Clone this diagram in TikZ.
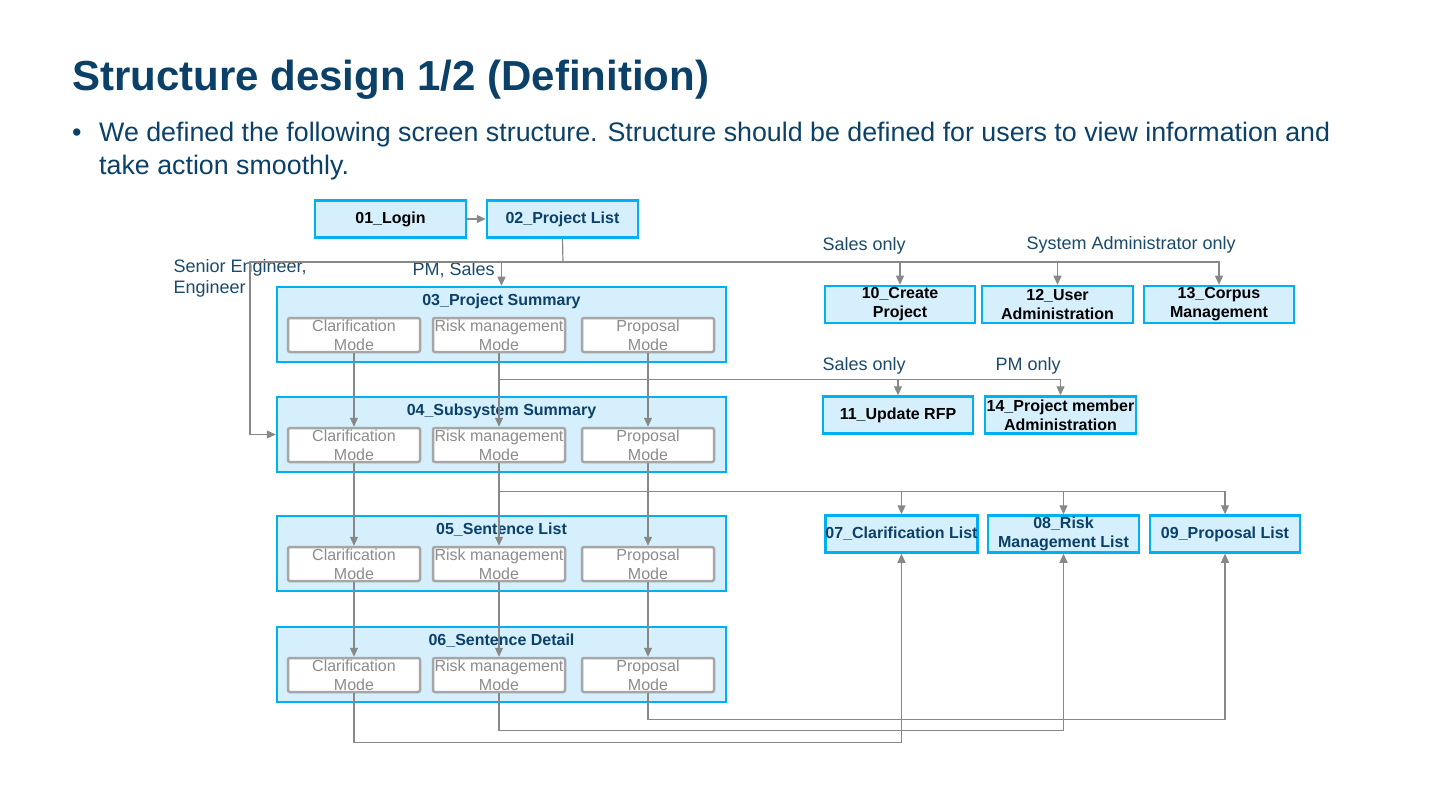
\documentclass[tikz,border=0pt]{standalone}
\usepackage{fontspec}
\setmainfont{Liberation Sans}
\usetikzlibrary{arrows.meta}

\definecolor{navy}{HTML}{0B4168}
\definecolor{labelblue}{HTML}{1B4A6B}
\definecolor{screenfill}{HTML}{D5EFFC}
\definecolor{screenline}{HTML}{00B0F0}
\definecolor{modeline}{HTML}{A6A6A6}
\definecolor{modetext}{HTML}{8C8C8C}
\definecolor{wire}{HTML}{888888}

\tikzset{
  screen/.style={draw=screenline, fill=screenfill, line width=2.5pt,
    minimum height=37pt, inner sep=0pt, align=center,
    font=\bfseries\fontsize{16}{19}\selectfont, text=black},
  group/.style={draw=screenline, fill=screenfill, line width=2.5pt,
    minimum width=449pt, minimum height=75pt, inner sep=0pt},
  grouptitle/.style={font=\bfseries\fontsize{16}{18}\selectfont, text=navy},
  mode/.style={draw=modeline, fill=white, line width=2.5pt, rounded corners=2pt,
    minimum width=132pt, minimum height=34pt, inner sep=0pt, align=center,
    font=\fontsize{16}{19}\selectfont, text=modetext},
  role/.style={font=\fontsize{18}{21}\selectfont, text=labelblue, align=left},
  wireline/.style={draw=wire, line width=1.2pt},
  arr/.style={wireline, -{Triangle[length=9pt,width=8pt]}},
}

\begin{document}
\begin{tikzpicture}[x=1pt, y=-1pt]
\path[use as bounding box, fill=white] (0,0) rectangle (1440,810);

% heading and bullet (multi-line nodes are placed by their last baseline)
\node[anchor=base west, inner sep=0pt, text=navy,
  font=\bfseries\fontsize{42}{48}\selectfont] (title) at (72,91)
  {Structure design 1/2 (Definition)};
\node[anchor=base west, inner sep=0pt, text=navy,
  font=\fontsize{27}{33}\selectfont] (dot) at (72,142) {\textbullet};
\node[anchor=base west, inner sep=0pt, text=navy, align=left,
  font=\fontsize{26.8}{33}\selectfont] (bullet) at (99,175)
  {We defined the following screen structure. Structure should be defined for users to view information and\\
   take action smoothly.};

% top-level screens
\node[screen, minimum width=151pt] (n01) at (390.5,219) {01\_Login};
\node[screen, minimum width=151pt, text=navy] (n02) at (562.5,219) {02\_Project List};

\node[screen, minimum width=150pt] (n10) at (900,304.5) {10\_Create\\Project};
\node[screen, minimum width=151pt] (n12) at (1057.5,304.5) {12\_User\\Administration};
\node[screen, minimum width=150pt] (n13) at (1219,304.5) {13\_Corpus\\Management};

\node[screen, minimum width=150pt] (n11) at (898,415) {11\_Update RFP};
\node[screen, minimum width=151pt] (n14) at (1060.5,415) {14\_Project member\\Administration};

\node[screen, minimum width=151pt, text=navy] (n07) at (901.5,534) {07\_Clarification List};
\node[screen, minimum width=151pt, text=navy] (n08) at (1063.5,534) {08\_Risk\\Management List};
\node[screen, minimum width=150pt, text=navy] (n09) at (1225,534) {09\_Proposal List};

% grouped screens with their three modes
\foreach \g/\top/\name in {03/287/03\_Project Summary, 04/397/04\_Subsystem Summary,
                           05/516/05\_Sentence List, 06/627/06\_Sentence Detail} {
  \node[group] (n\g) at (501.5,\top+37.5) {};
  \node[grouptitle] (t\g) at (501.5,\top+14) {\name};
  \node[mode] (m\g c) at (354,\top+48) {Clarification\\Mode};
  \node[mode] (m\g r) at (499,\top+48) {Risk management\\Mode};
  \node[mode] (m\g p) at (648,\top+48) {Proposal\\Mode};
}

% role labels
\node[role, anchor=base west] (lsen) at (170,294) {Senior Engineer,\\Engineer};
\node[role, anchor=base west] (lpm) at (409,276) {PM, Sales};
\node[role, anchor=base west] (ls1) at (819,251) {Sales only};
\node[role, anchor=base west] (lsys) at (1023,250) {System Administrator only};
\node[role, anchor=base west] (ls2) at (819,370) {Sales only};
\node[role, anchor=base west] (lpmo) at (992,370) {PM only};

% connectors
\coordinate (hub) at (563,262);
\coordinate (side) at (250,262);
\draw[arr] (n01) -- (n02);
\draw[wireline] (n02.south) -- (hub);
\draw[arr] (hub) -| (n03.north);
\draw[arr] (hub) -- (side) |- (n04.west);
\draw[arr] (hub) -| (n10.north);
\draw[arr] (hub) -| (n12.north);
\draw[arr] (hub) -| (n13.north);

\draw[arr] (m03r.south) -- ++(0,26) -| (n11.north);
\draw[arr] (m03r.south) -- ++(0,26) -| (n14.north);

\foreach \a/\b in {03/04, 04/05, 05/06}
  \foreach \k in {c, r, p}
    \draw[arr] (m\a\k.south) -- (m\b\k.north);

\draw[arr] (m04r.south) -- ++(0,28) -| (n07.north);
\draw[arr] (m04r.south) -- ++(0,28) -| (n08.north);
\draw[arr] (m04r.south) -- ++(0,28) -| (n09.north);

\draw[arr] (m06c.south) -- ++(0,49) -| (n07.south);
\draw[arr] (m06r.south) -- ++(0,37) -| (n08.south);
\draw[arr] (m06p.south) -- ++(0,26) -| (n09.south);
\end{tikzpicture}
\end{document}
